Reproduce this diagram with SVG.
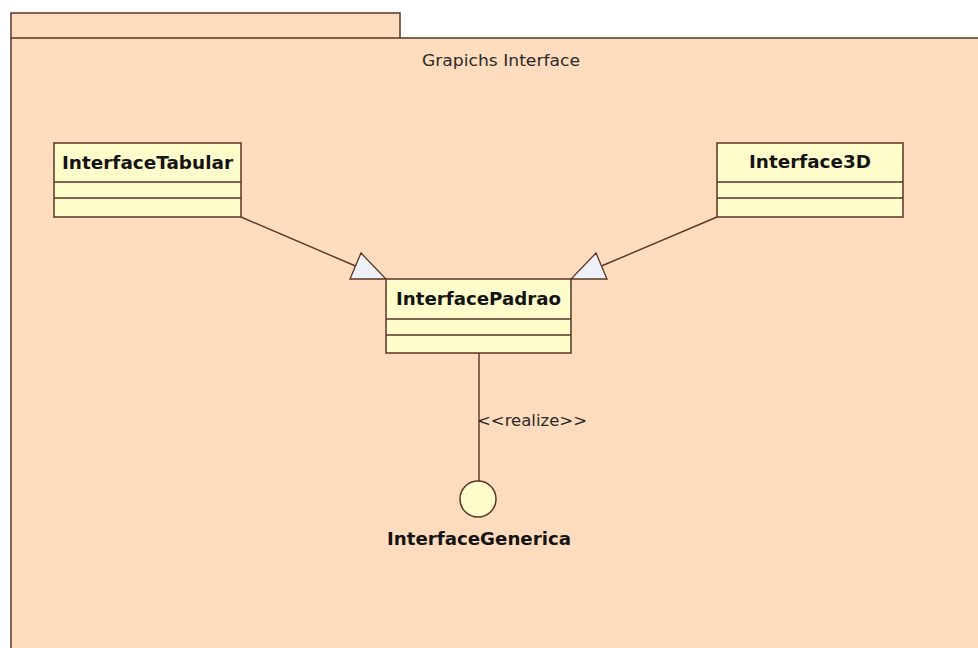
<svg xmlns="http://www.w3.org/2000/svg" width="978" height="648" viewBox="0 0 978 648">
  <style>
    .sep { stroke: #5a3426; stroke-width: 1.5; fill: none; }
    .cls { fill: #fefccb; stroke: #5a3426; stroke-width: 1.5; }
    .edge { stroke: #5a3426; stroke-width: 1.4; fill: none; }
    .head { fill: #eef1f8; stroke: #5a3426; stroke-width: 1.3; stroke-linejoin: miter; }
    .name { font-family: "DejaVu Sans", "Liberation Sans", sans-serif; font-weight: bold; font-size: 18px; fill: #141414; text-anchor: middle; }
    .lbl { font-family: "DejaVu Sans", "Liberation Sans", sans-serif; font-size: 16px; fill: #2a2a2a; }
  </style>

  <!-- package frame: tab + body (body runs off the right and bottom edges) -->
  <g id="package">
    <rect x="11" y="13" width="389" height="25" fill="#fedcbd"/>
    <rect x="11" y="38" width="980" height="620" fill="#fedcbd"/>
    <path class="sep" d="M11 38 V13 H400 V38"/>
    <path class="sep" d="M11 648 V38 H978"/>
    <text class="lbl" x="501" y="66" text-anchor="middle" textLength="158" lengthAdjust="spacingAndGlyphs">Grapichs Interface</text>
  </g>

  <!-- connectors: two generalizations and one realization -->
  <g id="connectors">
    <line class="edge" x1="241" y1="217" x2="355.5" y2="266"/>
    <polygon class="head" points="386,279 350,279 361,253"/>
    <line class="edge" x1="717" y1="217" x2="601.5" y2="266"/>
    <polygon class="head" points="571,279 607,279 596,253"/>
    <line class="edge" x1="479" y1="353" x2="479" y2="481"/>
    <text class="lbl" x="477" y="426" textLength="110" lengthAdjust="spacingAndGlyphs">&lt;&lt;realize&gt;&gt;</text>
  </g>

  <g id="InterfaceTabular">
    <rect class="cls" x="54" y="143" width="187" height="74"/>
    <line class="sep" x1="54" y1="182" x2="241" y2="182"/>
    <line class="sep" x1="54" y1="198" x2="241" y2="198"/>
    <text class="name" x="147.5" y="169" textLength="171" lengthAdjust="spacingAndGlyphs">InterfaceTabular</text>
  </g>

  <g id="Interface3D">
    <rect class="cls" x="717" y="143" width="186" height="74"/>
    <line class="sep" x1="717" y1="182" x2="903" y2="182"/>
    <line class="sep" x1="717" y1="198" x2="903" y2="198"/>
    <text class="name" x="810" y="168" textLength="122" lengthAdjust="spacingAndGlyphs">Interface3D</text>
  </g>

  <g id="InterfacePadrao">
    <rect class="cls" x="386" y="279" width="185" height="74"/>
    <line class="sep" x1="386" y1="319" x2="571" y2="319"/>
    <line class="sep" x1="386" y1="335" x2="571" y2="335"/>
    <text class="name" x="478.5" y="305" textLength="165" lengthAdjust="spacingAndGlyphs">InterfacePadrao</text>
  </g>

  <g id="InterfaceGenerica">
    <circle class="cls" cx="478" cy="499" r="18"/>
    <text class="name" x="479" y="545" textLength="184" lengthAdjust="spacingAndGlyphs">InterfaceGenerica</text>
  </g>
</svg>
